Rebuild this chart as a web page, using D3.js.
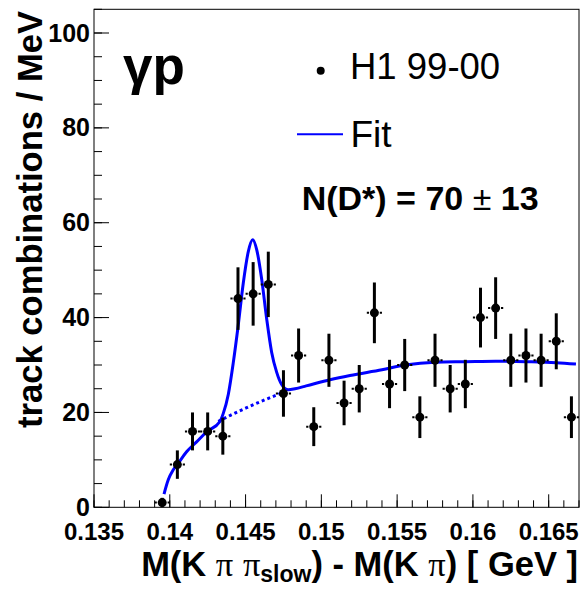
<!DOCTYPE html>
<html>
<head>
<meta charset="utf-8">
<script src="https://cdn.jsdelivr.net/npm/d3@7"></script>
<style>
  html, body { margin: 0; padding: 0; background: #fff; }
  svg { display: block; }
</style>
</head>
<body>
<svg id="chart" width="587" height="596"></svg>
<script>
// ---- data ----
const binCenters = [0.1395, 0.1405, 0.1415, 0.1425, 0.1435, 0.1445, 0.1455, 0.1465, 0.1475, 0.1485,
                    0.1495, 0.1505, 0.1515, 0.1525, 0.1535, 0.1545, 0.1555, 0.1565, 0.1575, 0.1585,
                    0.1595, 0.1605, 0.1615, 0.1625, 0.1635, 0.1645, 0.1655, 0.1665];
const counts = [1, 9, 16, 16, 15, 44, 45, 47, 24, 32,
                17, 31, 22, 25, 41, 26, 30, 19, 31, 25,
                26, 40, 42, 31, 32, 31, 35, 19];
const errors = [1.0, 3.0, 4.0, 4.0, 3.9, 6.6, 6.7, 6.9, 4.9, 5.7,
                4.1, 5.6, 4.7, 5.0, 6.4, 5.1, 5.5, 4.4, 5.6, 5.0,
                5.1, 6.3, 6.5, 5.6, 5.7, 5.6, 5.9, 4.4];
const binHalfWidth = 0.0005;

const fitX = [0.13962, 0.13990, 0.14023, 0.14056, 0.14111, 0.14177, 0.14243, 0.14331, 0.14353, 0.14386,
              0.14419, 0.14452, 0.14485, 0.14518, 0.14547, 0.14573, 0.14606, 0.14639, 0.14672, 0.14705,
              0.14738, 0.14782, 0.14826, 0.1490, 0.15057, 0.15189, 0.1540, 0.15553, 0.1575, 0.1595,
              0.1615, 0.1635, 0.1655, 0.1668];
const fitY = [2.8, 5.8, 7.9, 9.3, 11.7, 13.8, 15.9, 18.1, 19.8, 23.8,
              30.5, 38.5, 47.3, 53.9, 56.4, 54.4, 48.2, 39.8, 32.7, 28.5,
              25.9, 24.8, 25.0, 25.6, 26.9, 27.8, 29.0, 30.0, 30.6, 30.7,
              30.8, 30.7, 30.5, 30.2];
const bgX = [0.1432, 0.1440, 0.1450, 0.1460, 0.1470, 0.1478];
const bgY = [18.1, 19.4, 20.9, 22.3, 23.6, 24.6];

const xTicks = [0.135, 0.14, 0.145, 0.15, 0.155, 0.16, 0.165];
const xTickLabels = ["0.135", "0.14", "0.145", "0.15", "0.155", "0.16", "0.165"];
const yTicks = [0, 20, 40, 60, 80, 100];
const yTickLabels = ["0", "20", "40", "60", "80", "100"];

const legendData = "H1 99-00";
const legendFit = "Fit";
const regionLabel = "γp";

// ---- layout ----
const L = 94, R = 579, T = 9.3, B = 507.3;
const svg = d3.select("#chart");
const x = d3.scaleLinear().domain([0.135, 0.167]).range([L, R]);
const y = d3.scaleLinear().domain([0, 105]).range([B, T]);
const blue = "#0000ff";
const font = "'Liberation Sans', Arial, Helvetica, sans-serif";
const serif = "'Liberation Serif', 'Times New Roman', serif";

// frame
svg.append("rect").attr("x", L).attr("y", T).attr("width", R - L).attr("height", B - T)
  .attr("fill", "none").attr("stroke", "#000").attr("stroke-width", 1);

// x axis ticks
const xMinor = d3.range(0, 33).map(i => 0.135 + i * 0.001).filter(v => v <= 0.1670001);
svg.append("g").selectAll("line").data(xMinor).join("line")
  .attr("x1", d => x(d)).attr("x2", d => x(d))
  .attr("y1", B).attr("y2", B - 7).attr("stroke", "#000").attr("stroke-width", 1);
svg.append("g").selectAll("line").data(xTicks).join("line")
  .attr("x1", d => x(d)).attr("x2", d => x(d))
  .attr("y1", B).attr("y2", B - 13).attr("stroke", "#000").attr("stroke-width", 1);
svg.append("g").selectAll("text").data(xTicks).join("text")
  .attr("x", d => x(d)).attr("y", 540)
  .attr("text-anchor", "middle").attr("font-family", font).attr("font-weight", "bold")
  .attr("font-size", 24).text((d, i) => xTickLabels[i]);

// y axis ticks
const yMinor = d3.range(0, 22).map(i => i * 5).filter(v => v <= 105);
svg.append("g").selectAll("line").data(yMinor).join("line")
  .attr("x1", L).attr("x2", L + 8)
  .attr("y1", d => y(d)).attr("y2", d => y(d)).attr("stroke", "#000").attr("stroke-width", 1);
svg.append("g").selectAll("line").data(yTicks).join("line")
  .attr("x1", L).attr("x2", L + 15)
  .attr("y1", d => y(d)).attr("y2", d => y(d)).attr("stroke", "#000").attr("stroke-width", 1);
svg.append("g").selectAll("text").data(yTicks).join("text")
  .attr("x", 90).attr("y", d => y(d) + 8.5)
  .attr("text-anchor", "end").attr("font-family", font).attr("font-weight", "bold")
  .attr("font-size", 25).text((d, i) => yTickLabels[i]);

// axis titles
svg.append("text")
  .attr("transform", "translate(42,11) rotate(-90)")
  .attr("text-anchor", "end").attr("font-family", font).attr("font-weight", "bold")
  .attr("font-size", 35).attr("textLength", 417).attr("lengthAdjust", "spacingAndGlyphs")
  .text("track combinations / MeV");

const xt = svg.append("text").attr("x", 578).attr("y", 576)
  .attr("text-anchor", "end").attr("font-family", font).attr("font-weight", "bold")
  .attr("font-size", 34.5);
xt.append("tspan").text("M(K ");
xt.append("tspan").attr("font-family", serif).attr("font-weight", "normal").text("π");
xt.append("tspan").text(" ");
xt.append("tspan").attr("font-family", serif).attr("font-weight", "normal").text("π");
xt.append("tspan").attr("font-size", 23).attr("dy", 6).text("slow");
xt.append("tspan").attr("dy", -6).text(") - M(K ");
xt.append("tspan").attr("font-family", serif).attr("font-weight", "normal").text("π");
xt.append("tspan").text(") [ GeV ]");

// fit curves
const line = d3.line().x(d => x(d[0])).y(d => y(d[1])).curve(d3.curveMonotoneX);
svg.append("path").datum(bgX.map((v, i) => [v, bgY[i]]))
  .attr("d", line).attr("fill", "none").attr("stroke", blue)
  .attr("stroke-width", 3).attr("stroke-dasharray", "3,3");
svg.append("path").datum(fitX.map((v, i) => [v, fitY[i]]))
  .attr("d", line).attr("fill", "none").attr("stroke", blue).attr("stroke-width", 3);

// data points
const pts = svg.append("g");
binCenters.forEach((c, i) => {
  const cx = x(c), cy = y(counts[i]);
  pts.append("line").attr("x1", cx).attr("x2", cx)
    .attr("y1", y(counts[i] - errors[i])).attr("y2", y(counts[i] + errors[i]))
    .attr("stroke", "#000").attr("stroke-width", 3);
  const hx1 = x(c - binHalfWidth), hx2 = x(c + binHalfWidth);
  pts.append("line").attr("x1", hx1).attr("x2", hx2).attr("y1", cy).attr("y2", cy)
    .attr("stroke", "#000").attr("stroke-width", 2)
    .attr("stroke-dasharray", "2.2," + (hx2 - hx1 - 4.4).toFixed(2) + ",2.2");
  pts.append("circle").attr("cx", cx).attr("cy", cy).attr("r", 4.5).attr("fill", "#000");
});

// labels
svg.append("text").attr("x", 123).attr("y", 84).attr("font-family", font)
  .attr("font-weight", "bold").attr("font-size", 53).text(regionLabel);

svg.append("circle").attr("cx", 320.7).attr("cy", 70.7).attr("r", 4).attr("fill", "#000");
svg.append("text").attr("x", 350).attr("y", 79).attr("font-family", font)
  .attr("font-size", 36.5).text(legendData);
svg.append("line").attr("x1", 297).attr("x2", 343).attr("y1", 134.3).attr("y2", 134.3)
  .attr("stroke", blue).attr("stroke-width", 2);
svg.append("text").attr("x", 350.5).attr("y", 146.5).attr("font-family", font)
  .attr("font-size", 37).text(legendFit);

const nt = svg.append("text").attr("x", 301.7).attr("y", 210).attr("font-family", font)
  .attr("font-weight", "bold").attr("font-size", 34);
nt.append("tspan").text("N(D*) = 70 ");
nt.append("tspan").attr("font-weight", "normal").text("±");
nt.append("tspan").text(" 13");
</script>
</body>
</html>
